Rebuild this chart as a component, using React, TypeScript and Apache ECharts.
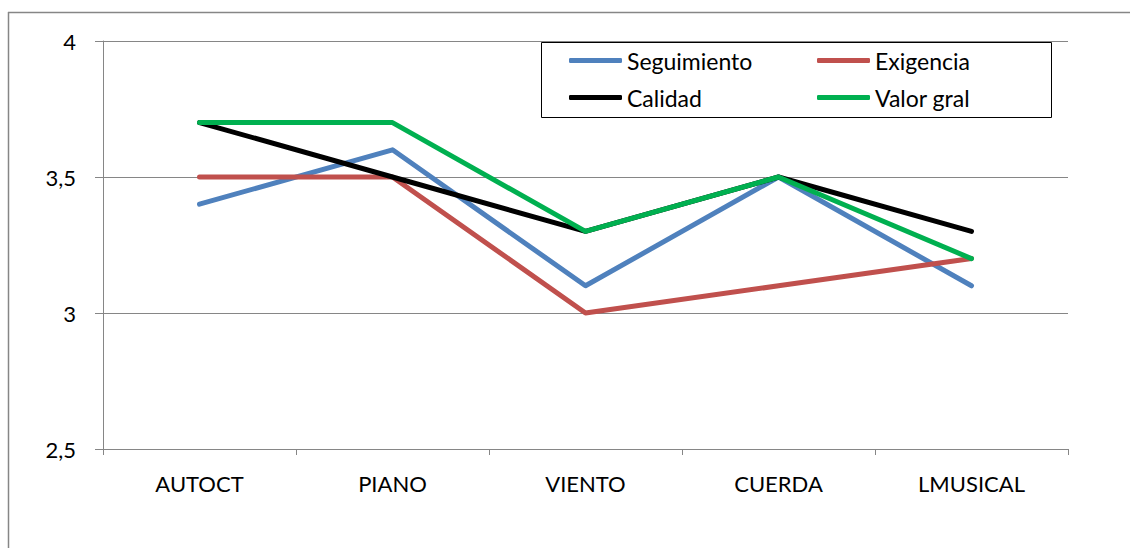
import React, { useEffect, useRef } from "react";
import * as echarts from "echarts";

const categories = ["AUTOCT", "PIANO", "VIENTO", "CUERDA", "LMUSICAL"];
const seguimiento = [3.4, 3.6, 3.1, 3.5, 3.1];
const exigencia = [3.5, 3.5, 3.0, 3.1, 3.2];
const calidad = [3.7, 3.5, 3.3, 3.5, 3.3];
const valorGral = [3.7, 3.7, 3.3, 3.5, 3.2];
const yTicks = [2.5, 3, 3.5, 4];

const FONT = "Lato, 'Open Sans', sans-serif";
const GRAY = "#868686";

export default function App() {
  const ref = useRef<HTMLDivElement>(null);
  useEffect(() => {
    if (!ref.current) return;
    const chart = echarts.init(ref.current, undefined, { renderer: "svg" });
    const mk = (name: string, data: number[], color: string) => ({
      name,
      type: "line",
      data,
      symbol: "none",
      lineStyle: { color, width: 5, cap: "round", join: "round" },
      itemStyle: { color },
      z: 3,
    });
    const legendCommon = {
      orient: "vertical",
      itemWidth: 53,
      itemHeight: 5,
      itemGap: 14,
      icon: "roundRect",
      textStyle: { fontFamily: FONT, fontSize: 23, color: "#000" },
      padding: 0,
      z: 6,
    };
    chart.setOption({
      animation: false,
      backgroundColor: "#fff",
      grid: { left: 103, right: 62, top: 41, bottom: 99 },
      xAxis: {
        type: "category",
        data: categories,
        boundaryGap: true,
        axisLine: { lineStyle: { color: GRAY, width: 1 } },
        axisTick: { show: true, length: 6, lineStyle: { color: GRAY } },
        axisLabel: { fontFamily: FONT, fontSize: 22, color: "#000", margin: 23 },
      },
      yAxis: {
        type: "value",
        min: 2.5,
        max: 4,
        interval: 0.5,
        axisLine: { show: true, lineStyle: { color: GRAY, width: 1 } },
        axisTick: { show: true, length: 8, lineStyle: { color: GRAY } },
        splitLine: { lineStyle: { color: GRAY, width: 1 } },
        axisLabel: {
          fontFamily: FONT,
          fontSize: 22,
          color: "#000",
          margin: 27,
          formatter: (v: number) =>
            yTicks.includes(v) ? String(v).replace(".", ",") : "",
        },
      },
      legend: [
        { ...legendCommon, left: 569, top: 49, data: ["Seguimiento", "Calidad"] },
        { ...legendCommon, left: 817, top: 49, data: ["Exigencia", "Valor gral"] },
      ],
      graphic: [
        {
          type: "line",
          shape: { x1: 8, y1: 12.5, x2: 1130, y2: 12.5 },
          style: { stroke: GRAY, lineWidth: 1.5 },
          silent: true,
        },
        {
          type: "line",
          shape: { x1: 8.5, y1: 12, x2: 8.5, y2: 548 },
          style: { stroke: GRAY, lineWidth: 1.5 },
          silent: true,
        },
        {
          type: "rect",
          shape: { x: 541.5, y: 42.5, width: 510, height: 75 },
          style: { fill: "#fff", stroke: "#000", lineWidth: 1 },
          z: 1,
          silent: true,
        },
      ],
      series: [
        mk("Seguimiento", seguimiento, "#4F81BD"),
        mk("Exigencia", exigencia, "#C0504D"),
        mk("Calidad", calidad, "#000000"),
        mk("Valor gral", valorGral, "#00B050"),
      ],
    });
    return () => chart.dispose();
  }, []);
  return (
    <div
      ref={ref}
      style={{ position: "fixed", left: 0, top: 0, width: 1130, height: 548 }}
    />
  );
}
